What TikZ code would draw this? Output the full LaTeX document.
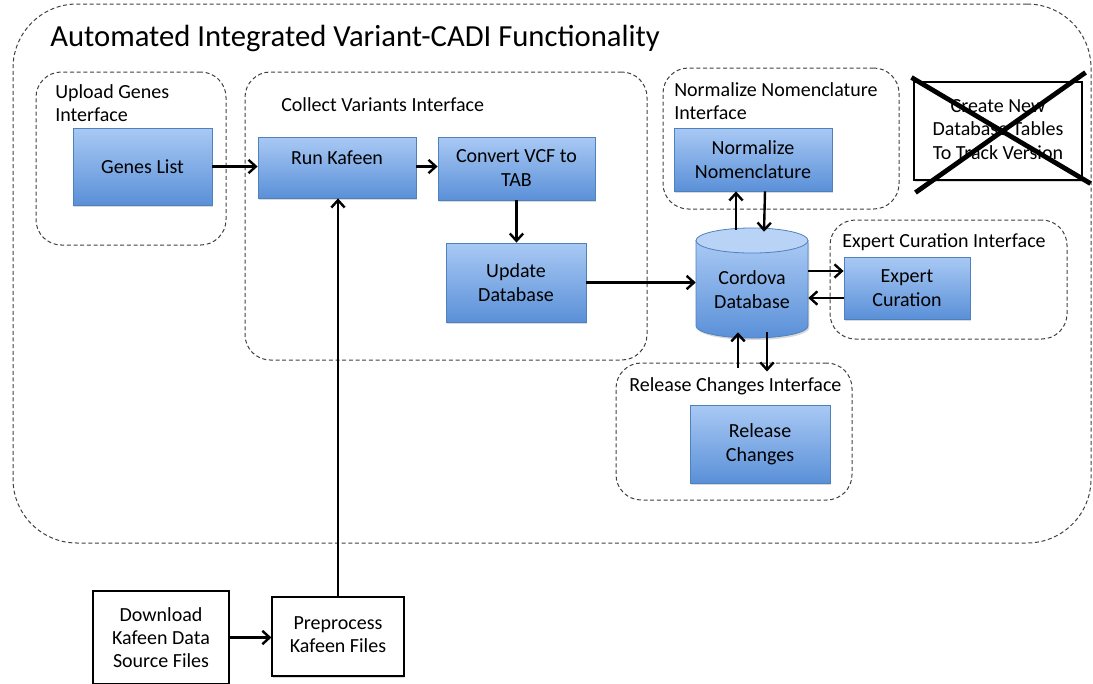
\documentclass[tikz,border=0pt]{standalone}
\usepackage{fontspec}
\setmainfont{Carlito}
\usetikzlibrary{arrows.meta,fit,shadows,calc}
\definecolor{boxtop}{HTML}{A9C9F4}
\definecolor{boxbot}{HTML}{5A90D8}
\definecolor{boxedge}{HTML}{4F81BD}
\definecolor{cyltop}{HTML}{B9D3F6}
\definecolor{dashc}{HTML}{404040}
\begin{document}
\begin{tikzpicture}[x=0.75pt,y=-0.75pt,
  sz/.style 2 args={minimum width=#1*0.75pt, minimum height=#2*0.75pt},
  outer/.style={draw=dashc, line width=0.75pt, dash pattern=on 3pt off 2pt, rounded corners=48pt, inner sep=0pt},
  group/.style={draw=dashc, line width=0.75pt, dash pattern=on 3pt off 2pt, rounded corners=19pt, inner sep=0pt},
  glabel/.style={inner sep=0pt, align=left, font=\fontsize{15}{17.5}\selectfont},
  bluebox/.style={draw=boxedge, line width=0.6pt, top color=boxtop, bottom color=boxbot, inner sep=0pt, align=center,
    font=\fontsize{15}{18}\selectfont, drop shadow={shadow xshift=1pt, shadow yshift=-1.5pt, opacity=0.3}},
  whitebox/.style={draw=black, line width=0.8pt, fill=white, inner sep=0pt, align=center,
    font=\fontsize{15}{17.5}\selectfont, drop shadow={shadow xshift=1pt, shadow yshift=-1.5pt, opacity=0.3}},
  arr/.style={line width=1.8pt, -{Straight Barb[length=5.5pt,width=10pt]}}
]
\useasboundingbox (0,0) rectangle (1093,683);

% outer container
\node[outer, fit={(13,4) (1091,543)}] (main) {};
\node[anchor=base west, inner sep=0pt, font=\fontsize{23}{27}\selectfont] (title) at (50,46) {Automated Integrated Variant-CADI Functionality};

% interface groups
\node[group, fit={(36,72) (226,245)}] (upG) {};
\node[glabel, anchor=north west] (upL) at (55,84) {Upload Genes\\Interface};
\node[group, fit={(245,72) (647,360)}] (colG) {};
\node[glabel, anchor=base west] (colL) at (281,111) {Collect Variants Interface};
\node[group, fit={(663,68) (899,209)}] (normG) {};
\node[glabel, anchor=north west] (normL) at (674,82) {Normalize Nomenclature\\Interface};
\node[group, fit={(830,220) (1067,339)}] (expG) {};
\node[glabel, anchor=base west] (expL) at (842,247) {Expert Curation Interface};
\node[group, fit={(616,363) (852,500)}] (relG) {};
\node[glabel, anchor=base west] (relL) at (629,391) {Release Changes Interface};

% blue boxes
\node[bluebox, sz={139}{77}] (genes) at (142.5,166.5) {Genes List};
\node[bluebox, sz={158}{61}] (run) at (337,167.5) {\raisebox{15pt}{Run Kafeen}};
\node[bluebox, sz={157}{63}] (convert) at (516.5,168.5) {Convert VCF to\\TAB};
\node[bluebox, sz={140}{79}] (update) at (516,282.5) {Update\\Database};
\node[bluebox, sz={158}{63}] (norm) at (753,159.5) {Normalize\\Nomenclature};
\node[bluebox, sz={126}{62}] (expert) at (907,288) {Expert\\Curation};
\node[bluebox, sz={140}{78}] (release) at (760,444) {Release\\Changes};

% database cylinder
\node[inner sep=0pt, fit={(696,228) (808,338)}] (db) {};
\path[draw=boxedge, line width=0.6pt, top color=boxtop, bottom color=boxbot,
  drop shadow={shadow xshift=1pt, shadow yshift=-1.5pt, opacity=0.3}]
  (696,240.5) -- (696,326) arc[start angle=180, end angle=360, x radius=42pt, y radius=9pt] -- (808,240.5) -- cycle;
\filldraw[fill=cyltop, draw=boxedge, line width=0.6pt] (752,240.5) ellipse[x radius=42pt, y radius=9.4pt];
\node[align=center, inner sep=0pt, font=\fontsize{15}{18}\selectfont] (dbtext) at (752,290) {Cordova\\Database};

% crossed-out box
\node[whitebox, sz={168}{98}] (create) at (998,131) {\raisebox{6pt}{\begin{tabular}{@{}c@{}}Create New\\Database Tables\\To Track Version\end{tabular}}};
\draw[line width=3.6pt] ($(create.north west)+(-2,-4)$) -- ($(create.south east)+(8,3)$);
\draw[line width=3.6pt] ($(create.south west)+(2,12)$) -- ($(create.north east)+(3,-9)$);

% bottom boxes
\node[whitebox, sz={136}{93}] (download) at (161,637.5) {Download\\Kafeen Data\\Source Files};
\node[whitebox, sz={132}{79}] (pre) at (338,636.5) {\raisebox{12pt}{\begin{tabular}{@{}c@{}}Preprocess\\Kafeen Files\end{tabular}}};

% connectors
\draw[arr] (genes.east) -- (genes.east -| run.west);
\draw[arr] ($(run.east)+(0,-1)$) -- ($(run.east -| convert.west)+(0,-1)$);
\draw[arr] (convert.south) -- (convert.south |- update.north);
\draw[arr] (update.east) -- (update.east -| db.west);
\draw[arr] ($(db.north)+(-16,2)$) -- ($(norm.south)+(-17,0)$);
\draw[arr] ($(norm.south)+(12,0)$) -- ($(db.north)+(12,4)$);
\draw[arr] ($(db.east)+(0,-12)$) -- ($(db.east -| expert.west)+(0,-12)$);
\draw[arr] ($(db.east -| expert.west)+(0,15)$) -- ($(db.east)+(0,15)$);
\draw[arr] ($(relG.north)+(4,5)$) -- ($(db.south)+(-14,-6)$);
\draw[arr] ($(db.south)+(15,-6)$) -- ($(relG.north)+(33,9)$);
\draw[arr] (download.east) -- (download.east -| pre.west);
\draw[arr] (pre.north) -- (pre.north |- run.south);
\end{tikzpicture}
\end{document}
